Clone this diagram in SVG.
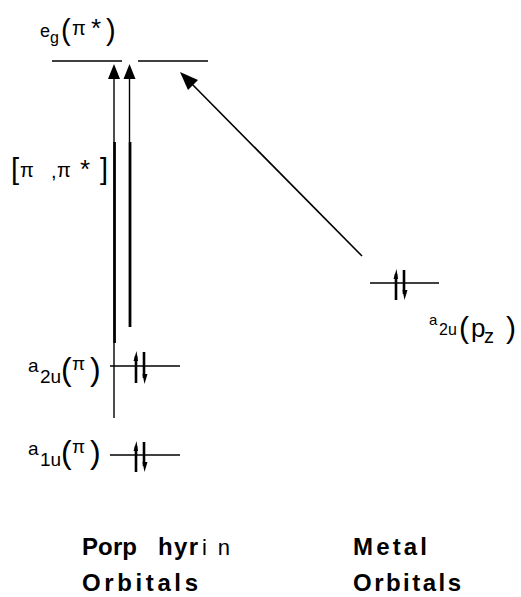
<svg xmlns="http://www.w3.org/2000/svg" width="521" height="597" viewBox="0 0 521 597">
<style>
.lv{stroke:#000;stroke-width:1.6;fill:none}
.ln{stroke:#000;fill:none}
.t{font-family:"Liberation Sans",Arial,sans-serif;fill:#000}
.b{font-family:"Liberation Sans",Arial,sans-serif;font-weight:bold;fill:#000;font-size:24px}
.hd{fill:#000;stroke:none}
.sp{stroke:#000;stroke-width:2.6;fill:none}
</style>
<rect width="521" height="597" fill="#fff"/>
<g id="eg-level">
  <line class="lv" x1="52" y1="61" x2="122" y2="61"/>
  <line class="lv" x1="138" y1="61" x2="208" y2="61"/>
  <text class="t" x="40" y="37" font-size="18">e</text>
  <text class="t" x="50" y="43" font-size="16">g</text>
  <text class="t" x="61" y="40" font-size="29">(</text>
  <text class="t" x="72" y="35" font-size="20">π</text>
  <text class="t" x="91" y="37" font-size="26">*</text>
  <text class="t" x="106" y="40" font-size="29">)</text>
</g>
<g id="transition-label">
  <text class="t" x="11" y="179" font-size="29">[</text>
  <text class="t" x="20" y="177" font-size="20">π</text>
  <text class="t" x="51" y="178" font-size="20">,</text>
  <text class="t" x="57" y="177" font-size="20">π</text>
  <text class="t" x="80" y="178" font-size="26">*</text>
  <text class="t" x="100" y="179" font-size="29">]</text>
</g>
<g id="a2u-pi">
  <line class="lv" x1="110" y1="366" x2="180" y2="366"/>
  <text class="t" x="28" y="372" font-size="19">a</text>
  <text class="t" x="40" y="383" font-size="19">2u</text>
  <text class="t" x="61" y="380" font-size="32">(</text>
  <text class="t" x="72" y="370" font-size="19">π</text>
  <text class="t" x="90" y="380" font-size="32">)</text>
  <line class="sp" x1="136" y1="383" x2="136" y2="356"/>
  <path class="hd" d="M133.5,361 L136.5,351 L138,361 Z"/>
  <line class="sp" x1="144" y1="352" x2="144" y2="378"/>
  <path class="hd" d="M142.5,374 L144.5,384 L147.5,374 Z"/>
</g>
<g id="a1u-pi">
  <line class="lv" x1="110" y1="455" x2="180" y2="455"/>
  <text class="t" x="28" y="455" font-size="19">a</text>
  <text class="t" x="40" y="466" font-size="19">1u</text>
  <text class="t" x="61" y="463" font-size="32">(</text>
  <text class="t" x="72" y="453" font-size="19">π</text>
  <text class="t" x="90" y="463" font-size="32">)</text>
  <line class="sp" x1="136" y1="472" x2="136" y2="446"/>
  <path class="hd" d="M133.5,451 L136.5,441 L138,451 Z"/>
  <line class="sp" x1="144" y1="442" x2="144" y2="466"/>
  <path class="hd" d="M142.5,462 L144.5,472 L147.5,462 Z"/>
</g>
<g id="a2u-pz">
  <line class="lv" x1="370" y1="283" x2="439" y2="283"/>
  <line class="sp" x1="396" y1="300" x2="396" y2="274"/>
  <path class="hd" d="M393.5,279 L396.5,269 L398,279 Z"/>
  <line class="sp" x1="404" y1="270" x2="404" y2="294"/>
  <path class="hd" d="M402.5,290 L404.5,300 L407.5,290 Z"/>
  <text class="t" x="429" y="325" font-size="15">a</text>
  <text class="t" x="439" y="335" font-size="16">2u</text>
  <text class="t" x="459" y="338" font-size="30">(</text>
  <text class="t" x="471" y="337" font-size="26">p</text>
  <text class="t" x="484" y="343" font-size="20">z</text>
  <text class="t" x="506" y="338" font-size="30">)</text>
</g>
<g id="connectors">
  <line class="ln" stroke-width="1.4" x1="114" y1="76" x2="114" y2="142"/>
  <line class="ln" stroke-width="2.8" x1="114.5" y1="142" x2="114.5" y2="343"/>
  <line class="ln" stroke-width="1.4" x1="114" y1="343" x2="114" y2="418"/>
  <path class="hd" d="M108,79 L114,64 L120,79 Z"/>
  <line class="ln" stroke-width="1.4" x1="129.5" y1="76" x2="129.5" y2="142"/>
  <line class="ln" stroke-width="2.8" x1="130" y1="142" x2="130" y2="327"/>
  <path class="hd" d="M123.5,79 L129.5,64 L135.5,79 Z"/>
  <line class="ln" stroke-width="1.6" x1="362" y1="256" x2="188" y2="80"/>
  <path class="hd" d="M180,72 L198,80 L188,90 Z"/>
</g>
<g id="captions">
  <text class="b" x="82" y="555" textLength="55" lengthAdjust="spacing">Porp</text>
  <text class="b" x="158" y="555" textLength="40" lengthAdjust="spacing">hyr</text>
  <text class="t" x="202" y="555" font-size="22" textLength="28" lengthAdjust="spacing">in</text>
  <text class="b" x="82" y="591" textLength="116" lengthAdjust="spacing">Orbitals</text>
  <text class="b" x="353" y="555" textLength="74" lengthAdjust="spacing">Metal</text>
  <text class="b" x="353" y="591" textLength="108" lengthAdjust="spacing">Orbitals</text>
</g>
</svg>
